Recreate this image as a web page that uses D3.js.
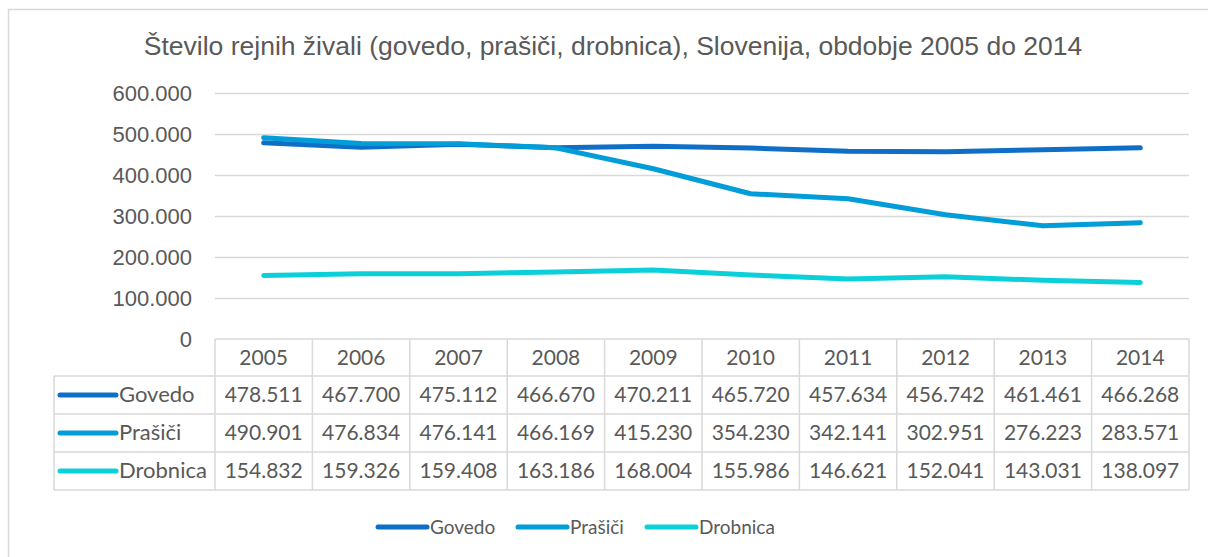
<!DOCTYPE html>
<html>
<head>
<meta charset="utf-8">
<script src="https://cdn.jsdelivr.net/npm/d3@7"></script>
<style>
  html, body { margin: 0; padding: 0; background: #fff; overflow: hidden; }
</style>
</head>
<body>
<div id="chart"></div>
<script>
// podatki
const leta = ["2005", "2006", "2007", "2008", "2009", "2010", "2011", "2012", "2013", "2014"];
const serije = ["Govedo", "Prašiči", "Drobnica"];
const govedo = [478511, 467700, 475112, 466670, 470211, 465720, 457634, 456742, 461461, 466268];
const prasici = [490901, 476834, 476141, 466169, 415230, 354230, 342141, 302951, 276223, 283571];
const drobnica = [154832, 159326, 159408, 163186, 168004, 155986, 146621, 152041, 143031, 138097];
const yTicks = [0, 100000, 200000, 300000, 400000, 500000, 600000];
const naslov = "Število rejnih živali (govedo, prašiči, drobnica), Slovenija, obdobje 2005 do 2014";

const barve = ["#0F6FC6", "#009DD9", "#0BD0D9"];
const vrednosti = [govedo, prasici, drobnica];

const width = 1208, height = 557;
const textCol = "#595959";
const gridCol = "#d9d9d9";
const fmt = v => v === 0 ? "0" : d3.format(",")(v).replace(/,/g, ".");

const svg = d3.select("#chart").append("svg")
  .attr("width", width).attr("height", height);

// okvir grafikona
svg.append("rect")
  .attr("x", 8.5).attr("y", 9.5)
  .attr("width", 1215).attr("height", 570)
  .attr("fill", "#fff").attr("stroke", gridCol).attr("stroke-width", 1.5);

// naslov
svg.append("text")
  .attr("x", 613).attr("y", 55)
  .attr("text-anchor", "middle")
  .attr("font-family", "'Liberation Sans', Arial, sans-serif")
  .attr("font-size", 26.5)
  .attr("fill", textCol)
  .text(naslov);

const left = 215, right = 1189;
const x = d3.scaleBand().domain(leta).range([left, right]);
const y = d3.scaleLinear().domain([0, 600000]).range([339, 93]);

// mreža
svg.append("g").selectAll("line")
  .data(yTicks.filter(t => t > 0))
  .join("line")
  .attr("x1", left).attr("x2", right)
  .attr("y1", d => y(d) + 0.5).attr("y2", d => y(d) + 0.5)
  .attr("stroke", gridCol).attr("stroke-width", 1.3);

// os y
const yAxis = svg.append("g")
  .attr("transform", `translate(192,0)`)
  .call(d3.axisLeft(y).tickValues(yTicks).tickFormat(fmt).tickSize(0).tickPadding(0));
yAxis.select(".domain").remove();
yAxis.selectAll("text")
  .attr("font-family", "'Liberation Sans', Arial, sans-serif")
  .attr("font-size", 22)
  .attr("fill", textCol);

// črte
const line = d3.line()
  .x((d, i) => x(leta[i]) + x.bandwidth() / 2)
  .y(d => y(d));

vrednosti.forEach((vals, i) => {
  svg.append("path")
    .datum(vals)
    .attr("d", line)
    .attr("fill", "none")
    .attr("stroke", barve[i])
    .attr("stroke-width", 5)
    .attr("stroke-linecap", "round")
    .attr("stroke-linejoin", "round");
});

// tabela podatkov
const tFont = "Lato, 'Noto Sans', sans-serif";
const headTop = 339, rowH = 38, headH = 37;
const labelLeft = 54;
const tab = svg.append("g");

// glava
tab.selectAll("text.leto")
  .data(leta)
  .join("text")
  .attr("class", "leto")
  .attr("x", d => x(d) + x.bandwidth() / 2)
  .attr("y", headTop + 26)
  .attr("text-anchor", "middle")
  .attr("font-family", tFont).attr("font-size", 21)
  .attr("fill", textCol)
  .text(d => d);

serije.forEach((s, r) => {
  const top = headTop + headH + r * rowH;
  tab.append("line")
    .attr("x1", 60).attr("x2", 116)
    .attr("y1", top + rowH / 2).attr("y2", top + rowH / 2)
    .attr("stroke", barve[r]).attr("stroke-width", 5)
    .attr("stroke-linecap", "round");
  tab.append("text")
    .attr("x", 119).attr("y", top + 26)
    .attr("font-family", tFont).attr("font-size", 22)
    .attr("fill", textCol)
    .text(s);
  tab.selectAll(null)
    .data(vrednosti[r])
    .join("text")
    .attr("x", (d, i) => x(leta[i]) + x.bandwidth() / 2)
    .attr("y", top + 26)
    .attr("text-anchor", "middle")
    .attr("font-family", tFont).attr("font-size", 21)
    .attr("fill", textCol)
    .text(d => fmt(d));
});

// mrežne črte tabele
const bottom = headTop + headH + 3 * rowH;
const tl = tab.append("g").attr("stroke", gridCol).attr("stroke-width", 1.5).attr("fill", "none");
tl.append("line").attr("x1", left).attr("x2", right).attr("y1", headTop).attr("y2", headTop);
[0, 1, 2, 3].forEach(r => {
  const yy = headTop + headH + r * rowH;
  tl.append("line").attr("x1", labelLeft).attr("x2", right).attr("y1", yy).attr("y2", yy);
});
tl.append("line").attr("x1", labelLeft).attr("x2", labelLeft).attr("y1", headTop + headH).attr("y2", bottom);
leta.forEach(l => {
  tl.append("line").attr("x1", x(l)).attr("x2", x(l)).attr("y1", headTop).attr("y2", bottom);
});
tl.append("line").attr("x1", right).attr("x2", right).attr("y1", headTop).attr("y2", bottom);

// legenda
const legX = [378, 518, 647];
serije.forEach((s, i) => {
  svg.append("line")
    .attr("x1", legX[i]).attr("x2", legX[i] + 49)
    .attr("y1", 527).attr("y2", 527)
    .attr("stroke", barve[i]).attr("stroke-width", 5)
    .attr("stroke-linecap", "round");
  svg.append("text")
    .attr("x", legX[i] + 52).attr("y", 534)
    .attr("font-family", tFont).attr("font-size", 19)
    .attr("fill", textCol)
    .text(s);
});
</script>
</body>
</html>
